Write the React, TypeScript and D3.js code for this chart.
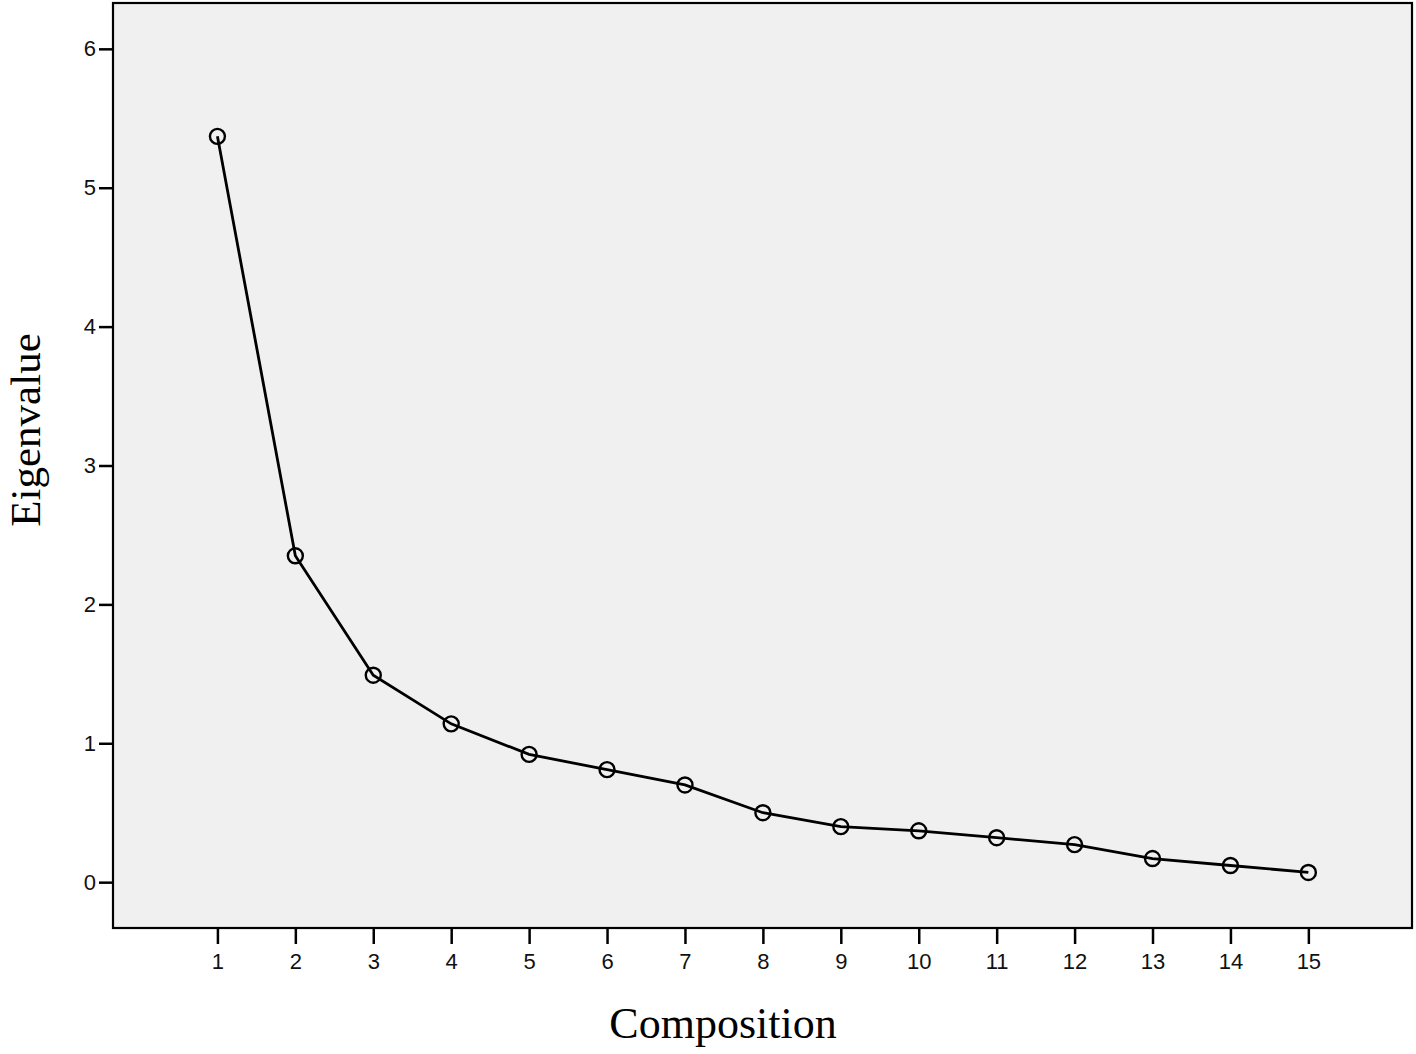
import React, { useEffect, useRef } from "react";
import * as d3 from "d3";

// scree plot values
const components = [1, 2, 3, 4, 5, 6, 7, 8, 9, 10, 11, 12, 13, 14, 15];
const eigenvalues = [5.37, 2.35, 1.49, 1.14, 0.92, 0.81, 0.7, 0.5, 0.4, 0.37, 0.32, 0.27, 0.17, 0.12, 0.07];
const yTicks = [0, 1, 2, 3, 4, 5, 6];

const ScreePlot = ({ width, height }: { width: number; height: number }) => {
  const svgRef = useRef<SVGSVGElement>(null);

  useEffect(() => {
    const margin = { top: 3, right: 4, bottom: 126, left: 113 };
    const innerWidth = width - margin.left - margin.right;
    const innerHeight = height - margin.top - margin.bottom;

    const svg = d3.select(svgRef.current).attr("width", width).attr("height", height);
    svg.selectAll("*").remove();

    const g = svg.append("g").attr("transform", `translate(${margin.left},${margin.top})`);

    const xScale = d3.scaleLinear().domain([-0.34, 16.33]).range([0, innerWidth]);
    const yScale = d3.scaleLinear().domain([-0.33, 6.33]).range([innerHeight, 0]);

    // plot background with frame
    g.append("rect")
      .attr("width", innerWidth)
      .attr("height", innerHeight)
      .style("fill", "#f0f0f0")
      .style("stroke", "#000")
      .style("stroke-width", 2.2);

    const xAxis = d3.axisBottom(xScale).tickValues(components).tickSize(16).tickPadding(9).tickFormat(d3.format("d"));
    const gx = g.append("g").attr("transform", `translate(0, ${innerHeight})`).call(xAxis);
    gx.select(".domain").remove();
    gx.selectAll(".tick line").style("stroke", "#000").style("stroke-width", 2.5);
    gx.selectAll("text").style("font-family", "Arial, 'Liberation Sans', sans-serif").style("font-size", "22px").style("fill", "#111");

    const yAxis = d3.axisLeft(yScale).tickValues(yTicks).tickSize(14).tickPadding(3).tickFormat(d3.format("d"));
    const gy = g.append("g").call(yAxis);
    gy.select(".domain").remove();
    gy.selectAll(".tick line").style("stroke", "#000").style("stroke-width", 2.5);
    gy.selectAll("text").style("font-family", "Arial, 'Liberation Sans', sans-serif").style("font-size", "22px").style("fill", "#111");

    const data = components.map((c, i) => ({ x: c, y: eigenvalues[i] }));

    const line = d3
      .line<{ x: number; y: number }>()
      .x((d) => xScale(d.x))
      .y((d) => yScale(d.y));

    g.append("path")
      .datum(data)
      .attr("d", line)
      .style("fill", "none")
      .style("stroke", "#000")
      .style("stroke-width", 2.8);

    g.selectAll(".pt")
      .data(data)
      .enter()
      .append("circle")
      .attr("class", "pt")
      .attr("cx", (d) => xScale(d.x))
      .attr("cy", (d) => yScale(d.y))
      .attr("r", 7.5)
      .style("fill", "none")
      .style("stroke", "#000")
      .style("stroke-width", 2.4);

    // axis titles
    svg.append("text")
      .attr("x", 723)
      .attr("y", 1038)
      .attr("text-anchor", "middle")
      .style("font-family", "'Liberation Serif', 'Times New Roman', serif")
      .style("font-size", "44px")
      .text("Composition");

    svg.append("text")
      .attr("transform", `translate(40, 430) rotate(-90)`)
      .attr("text-anchor", "middle")
      .style("font-family", "'Liberation Serif', 'Times New Roman', serif")
      .style("font-size", "43px")
      .text("Eigenvalue");
  }, [width, height]);

  return <svg ref={svgRef} style={{ display: "block" }}></svg>;
};

export default function App() {
  return (
    <div style={{ position: "absolute", left: 0, top: 0, background: "#fff", width: 1416, height: 1054 }}>
      <ScreePlot width={1416} height={1054} />
    </div>
  );
}
